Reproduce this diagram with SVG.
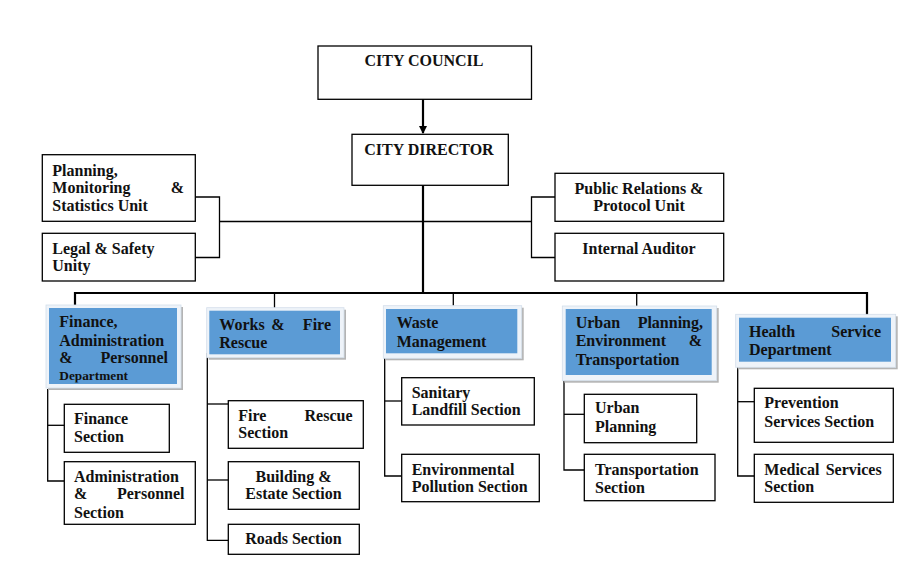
<svg xmlns="http://www.w3.org/2000/svg" width="910" height="563" viewBox="0 0 910 563">
<defs>
<style>
.box{fill:#fff;stroke:#000;stroke-width:1.3}
.t{font-family:"Liberation Serif","Times New Roman",serif;font-weight:bold;font-size:16px;fill:#111}
.m{text-anchor:middle}
.e{text-anchor:end}
.ln{stroke:#000;stroke-width:1.3;fill:none}
.bus{stroke:#000;stroke-width:2.2;fill:none}
.sh{fill:#b4b4b4}
.fr{fill:#eef3f9;stroke:#d3deea;stroke-width:0.8}
.bl{fill:#5b9bd5}
</style>
<marker id="arr" markerWidth="8" markerHeight="8" refX="7" refY="4" orient="auto" markerUnits="userSpaceOnUse">
<path d="M0,0 L8,4 L0,8 Z" fill="#000"/>
</marker>
<clipPath id="finClip"><rect x="49" y="308" width="128" height="74.5"/></clipPath>
</defs>
<rect width="910" height="563" fill="#fff"/>

<g id="connectors">
<line class="bus" x1="423" y1="99" x2="423" y2="133" marker-end="url(#arr)"/>
<line class="bus" x1="423" y1="185" x2="423" y2="293"/>
<polyline class="ln" points="195,197 219.5,197 219.5,257.5 195,257.5"/>
<line class="ln" x1="219.5" y1="221.5" x2="531.5" y2="221.5"/>
<polyline class="ln" points="555,197 531.5,197 531.5,257.5 555,257.5"/>
<polyline class="bus" points="75,305 75,293 867,293 867,315"/>
<line class="ln" x1="274.5" y1="293" x2="274.5" y2="308"/>
<line class="ln" x1="453.3" y1="293" x2="453.3" y2="305.7"/>
<line class="ln" x1="636.7" y1="293" x2="636.7" y2="306"/>
<polyline class="ln" points="47.7,389 47.7,481 64.3,481"/>
<line class="ln" x1="47.7" y1="425.3" x2="64.3" y2="425.3"/>
<polyline class="ln" points="207.3,353 207.3,540.3 228.3,540.3"/>
<line class="ln" x1="207.3" y1="404" x2="228.3" y2="404"/>
<line class="ln" x1="207.3" y1="480" x2="228.3" y2="480"/>
<polyline class="ln" points="384.7,354 384.7,476 401.7,476"/>
<line class="ln" x1="384.7" y1="401" x2="401.7" y2="401"/>
<polyline class="ln" points="564,380.7 564,470 584.3,470"/>
<line class="ln" x1="564" y1="414.3" x2="584.3" y2="414.3"/>
<polyline class="ln" points="737.7,365 737.7,476 754.3,476"/>
<line class="ln" x1="737.7" y1="401.7" x2="754.3" y2="401.7"/>
</g>

<g id="city-council">
<rect class="box" x="318" y="46" width="213.5" height="53.3"/>
<text class="t m" x="424" y="66">CITY COUNCIL</text>
</g>
<g id="city-director">
<rect class="box" x="352" y="134.3" width="156.3" height="51"/>
<text class="t m" x="429" y="154.7">CITY DIRECTOR</text>
</g>
<g id="planning-unit">
<rect class="box" x="42.3" y="154.7" width="153" height="66.6"/>
<text class="t" x="52.3" y="175.5">Planning,</text>
<text class="t" x="52.3" y="193.3">Monitoring</text>
<text class="t e" x="184" y="193.3">&amp;</text>
<text class="t" x="52.3" y="211.3">Statistics Unit</text>
</g>
<g id="legal-unit">
<rect class="box" x="42.3" y="233.3" width="153" height="47.7"/>
<text class="t" x="52.3" y="254">Legal &amp; Safety</text>
<text class="t" x="52.3" y="271">Unity</text>
</g>
<g id="public-relations">
<rect class="box" x="555" y="173.3" width="168.7" height="48"/>
<text class="t m" x="639" y="194">Public Relations &amp;</text>
<text class="t m" x="639" y="211.3">Protocol Unit</text>
</g>
<g id="internal-auditor">
<rect class="box" x="555" y="233.3" width="168.7" height="47.7"/>
<text class="t m" x="639" y="254">Internal Auditor</text>
</g>

<g id="finance-dept">
<rect class="sh" x="48" y="307" width="135" height="83"/>
<rect class="fr" x="46" y="305" width="135" height="83"/>
<rect class="bl" x="49" y="308" width="128" height="76"/>
<text class="t" x="59.3" y="326.7">Finance,</text>
<text class="t" x="59.3" y="346">Administration</text>
<text class="t" x="59.3" y="363.3">&amp;</text>
<text class="t e" x="168" y="363.3">Personnel</text>
<text class="t" x="59.3" y="379.5" style="font-size:13.3px" clip-path="url(#finClip)">Department</text>
</g>
<g id="works-dept">
<rect class="sh" x="208.7" y="309.7" width="137.3" height="50"/>
<rect class="fr" x="206.7" y="307.7" width="137.3" height="50"/>
<rect class="bl" x="209.3" y="310.7" width="130.7" height="43.6"/>
<text class="t" x="219.3" y="330">Works</text>
<text class="t m" x="278" y="330">&amp;</text>
<text class="t e" x="331" y="330">Fire</text>
<text class="t" x="219.3" y="348.3">Rescue</text>
</g>
<g id="waste-dept">
<rect class="sh" x="385.3" y="307.7" width="138.4" height="52.6"/>
<rect class="fr" x="383.3" y="305.7" width="138.4" height="52.6"/>
<rect class="bl" x="386" y="309" width="131.3" height="44.3"/>
<text class="t" x="396.7" y="328.3">Waste</text>
<text class="t" x="396.7" y="346.7">Management</text>
</g>
<g id="urban-dept">
<rect class="sh" x="564.3" y="308" width="154.4" height="74.7"/>
<rect class="fr" x="562.3" y="306" width="154.4" height="74.7"/>
<rect class="bl" x="565.7" y="309" width="146" height="66"/>
<text class="t" x="575.7" y="328.3">Urban</text>
<text class="t e" x="703" y="328.3">Planning,</text>
<text class="t" x="575.7" y="346">Environment</text>
<text class="t e" x="702" y="346">&amp;</text>
<text class="t" x="575.7" y="365">Transportation</text>
</g>
<g id="health-dept">
<rect class="sh" x="737.7" y="316.3" width="160" height="53"/>
<rect class="fr" x="735.7" y="314.3" width="160" height="53"/>
<rect class="bl" x="739" y="317.7" width="152" height="44"/>
<text class="t" x="749" y="337.3">Health</text>
<text class="t e" x="881" y="337.3">Service</text>
<text class="t" x="749" y="354.5">Department</text>
</g>

<g id="finance-section">
<rect class="box" x="64.3" y="404.3" width="105" height="48"/>
<text class="t" x="74" y="424.3">Finance</text>
<text class="t" x="74" y="441.7">Section</text>
</g>
<g id="admin-section">
<rect class="box" x="64.3" y="461.7" width="131" height="62.6"/>
<text class="t" x="74" y="481.7">Administration</text>
<text class="t" x="74" y="499.3">&amp;</text>
<text class="t e" x="184.5" y="499.3">Personnel</text>
<text class="t" x="74" y="518.3">Section</text>
</g>
<g id="fire-section">
<rect class="box" x="228.3" y="400.7" width="135" height="47.6"/>
<text class="t" x="238.3" y="421">Fire</text>
<text class="t e" x="352.5" y="421">Rescue</text>
<text class="t" x="238.3" y="438.3">Section</text>
</g>
<g id="building-section">
<rect class="box" x="228.3" y="461.7" width="131" height="47.6"/>
<text class="t m" x="293.5" y="481.7">Building &amp;</text>
<text class="t m" x="293.5" y="499">Estate Section</text>
</g>
<g id="roads-section">
<rect class="box" x="228.3" y="524.3" width="131" height="30"/>
<text class="t m" x="293.5" y="544">Roads Section</text>
</g>
<g id="sanitary-section">
<rect class="box" x="401.7" y="377.7" width="132.6" height="47.3"/>
<text class="t" x="411.7" y="397.5">Sanitary</text>
<text class="t" x="411.7" y="415">Landfill Section</text>
</g>
<g id="pollution-section">
<rect class="box" x="401.7" y="454.3" width="137.6" height="47.4"/>
<text class="t" x="411.7" y="474.5">Environmental</text>
<text class="t" x="411.7" y="491.7">Pollution Section</text>
</g>
<g id="urban-planning">
<rect class="box" x="584.3" y="394.3" width="112.4" height="48.4"/>
<text class="t" x="595" y="413.3">Urban</text>
<text class="t" x="595" y="431.7">Planning</text>
</g>
<g id="transport-section">
<rect class="box" x="584.3" y="454.3" width="130.7" height="46.4"/>
<text class="t" x="595" y="475">Transportation</text>
<text class="t" x="595" y="492.5">Section</text>
</g>
<g id="prevention-section">
<rect class="box" x="754.3" y="388.3" width="139" height="54"/>
<text class="t" x="764.3" y="408.3">Prevention</text>
<text class="t" x="764.3" y="427.3">Services Section</text>
</g>
<g id="medical-section">
<rect class="box" x="754.3" y="454.3" width="139" height="48"/>
<text class="t" x="764.3" y="475">Medical</text>
<text class="t e" x="881.7" y="475">Services</text>
<text class="t" x="764.3" y="492.3">Section</text>
</g>
</svg>
